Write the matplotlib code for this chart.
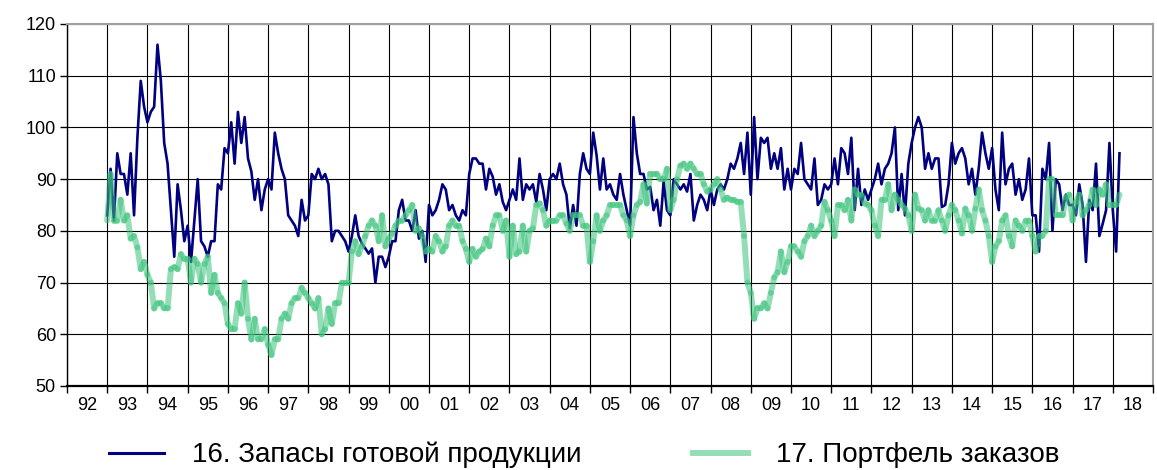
import matplotlib.pyplot as plt
import numpy as np
from matplotlib.collections import LineCollection
from matplotlib.lines import Line2D

plt.rcParams["font.family"] = ["Liberation Sans", "DejaVu Sans"]

# monthly series, Jan 1993 .. Mar 2018
start_year = 1993
year_labels = ["92", "93", "94", "95", "96", "97", "98", "99", "00", "01",
               "02", "03", "04", "05", "06", "07", "08", "09", "10", "11",
               "12", "13", "14", "15", "16", "17", "18"]
series_names = ["16. Запасы готовой продукции", "17. Портфель заказов"]

stocks = [
    83, 92, 82, 95, 91, 91, 87, 95, 83, 98, 109, 104,          # 1993
    101, 103, 104, 116, 109, 97, 93, 84, 75, 89, 84, 78,       # 1994
    81, 74, 82, 90, 78, 77, 75, 78, 78, 89, 88, 96,            # 1995
    95, 101, 93, 103, 97, 102, 94, 91.5, 86, 90, 84, 88,       # 1996
    90, 88, 99, 95, 92, 90, 83, 82, 81, 79, 86, 82,            # 1997
    83, 91, 90, 92, 90, 91, 89, 78, 80, 80, 79, 78,            # 1998
    76, 79, 83, 79, 77.5, 76.6, 75.6, 76.6, 70, 75, 75, 73,    # 1999
    75, 78, 78, 84, 86, 82, 82, 80, 84, 78.5, 80, 74,          # 2000
    85, 83, 84, 86, 89, 88, 84, 85, 83, 82, 84, 83,            # 2001
    91, 94, 94, 93, 93, 88, 92, 90.5, 87, 89, 85.6, 84,        # 2002
    86, 88, 86, 94, 86, 89, 88, 89, 85.6, 91, 88, 84,          # 2003
    90, 91, 90, 93, 89, 87, 80.5, 85, 81, 91, 95, 92,          # 2004
    91, 99, 94.6, 88, 94, 88, 89, 87, 86, 91, 87, 84,          # 2005
    81, 102, 95, 91, 91, 88, 88.5, 84, 86, 81, 89.5, 84,       # 2006
    83, 90, 89, 88, 89, 87.6, 91, 82, 85, 87, 86, 84,          # 2007
    88, 85, 88, 89, 88, 90, 93, 92, 94, 97, 91, 99,            # 2008
    87, 102, 90, 98, 97, 98, 92, 95, 92, 96, 88, 92,           # 2009
    88, 92, 91, 97, 90, 89, 88, 94, 85, 86, 89, 88,            # 2010
    89, 94, 89, 96, 95, 91, 98, 84, 92, 85, 88, 86,            # 2011
    88, 90, 93, 89, 92, 93, 95, 100, 84, 91, 83, 93,           # 2012
    97, 100, 102, 100, 92, 95, 92, 94, 94, 84.6, 85, 89,       # 2013
    97, 93, 95, 96, 94, 89, 92, 87, 92, 99, 95, 92,            # 2014
    96, 88, 84, 99, 89, 92, 93, 87, 90, 86, 88, 94,            # 2015
    83, 83, 76, 92, 90, 97, 80, 90, 89, 84, 87, 85,            # 2016
    85, 83, 89, 85, 74, 86, 84, 93, 79, 81.4, 84, 97,          # 2017
    84, 76, 95,                                                # 2018
]

orders = [
    82, 91, 82, 82, 86, 82, 83, 78.5, 79, 76.8, 72.6, 74,          # 1993
    71.5, 70, 65, 66, 66, 65, 65, 72.6, 73, 72.6, 75.5, 74.6,      # 1994
    74.6, 70, 74.6, 73.6, 70, 73.6, 75, 68, 71.5, 68, 67, 66,      # 1995
    62, 61, 61, 66, 64, 70, 63, 59, 63, 59, 59, 61,                # 1996
    58, 56, 59, 59, 63, 64, 63, 66, 67, 67, 69, 68,                # 1997
    67, 66, 65, 67, 60, 61, 65, 62, 66, 66, 70, 70,                # 1998
    70, 76, 78, 75.5, 77, 79, 81, 82, 81, 78, 83, 77,              # 1999
    78.5, 79.5, 81, 82, 82, 83, 84, 85, 80, 80.5, 79, 76,          # 2000
    76.5, 76, 79, 78, 76, 77, 81, 82, 81, 81, 78, 76.5,            # 2001
    74, 76.5, 75, 76, 76.5, 78.5, 77, 81, 83, 83, 80, 82,          # 2002
    75, 81, 75.5, 76, 81, 76, 80, 80.5, 85, 85.3, 84, 81,          # 2003
    82, 82, 82, 83, 83, 81.4, 80, 83, 83, 83, 81, 81,              # 2004
    74, 78, 83, 80, 82, 83, 85, 85, 85, 85, 83, 82,                # 2005
    79, 83, 85, 85.6, 89, 85.3, 91, 91, 91, 90, 90, 92,            # 2006
    84, 86, 90, 92.6, 93, 92, 93, 92, 91, 91, 89, 87.6,            # 2007
    88, 89, 90, 88, 86, 86.4, 86, 86, 85.6, 85.6, 79, 70,          # 2008
    68, 63, 65, 65, 66, 65, 68, 71, 72, 76, 72, 74,                # 2009
    77, 77, 76, 75, 78, 79, 81, 79, 80, 81, 85.6, 84,              # 2010
    82, 79, 85, 85, 84, 86, 82, 88, 87, 87, 85.3, 85,              # 2011
    84, 81, 79, 86, 86, 89, 84, 87, 86, 85, 84.3, 83,              # 2012
    80, 87, 84.3, 84, 82, 84, 82, 82, 84, 82, 80, 83,              # 2013
    85, 84, 82, 79.5, 84.3, 83, 80, 84.3, 88, 84, 82, 79,          # 2014
    74, 77, 78, 82, 83, 79, 77, 82, 81, 80, 82, 82,                # 2015
    79, 76, 79, 79, 80, 90, 90, 83, 83, 83, 86.5, 87,              # 2016
    82, 85.6, 87, 83, 84, 85, 88, 85, 88, 87, 89, 85,              # 2017
    85, 85, 87,                                                    # 2018
]

BLUE = "#000080"
GREEN = "#3cc47c"

x = start_year + np.arange(len(stocks)) / 12

fig = plt.figure(figsize=(11.57, 4.70), dpi=100)
ax = fig.add_axes([67 / 1157, 1 - 386 / 470, (1153 - 67) / 1157, (386 - 24) / 470])

ax.plot(x, stocks, color=BLUE, lw=1.9, zorder=3)

# green line drawn as separate translucent segments so the joints look darker
pts = np.column_stack([x, orders])
segs = np.stack([pts[:-1], pts[1:]], axis=1)
lc = LineCollection(segs, colors=GREEN, alpha=0.55, linewidths=4.3,
                    capstyle="round", zorder=4)
ax.add_collection(lc)

ax.set_xlim(1992, 2019)
ax.set_ylim(50, 120)

ax.set_xticks(range(1992, 2020))
ax.set_xticks(np.arange(1992.5, 2019, 1.0), minor=True)
ax.set_xticklabels(year_labels, minor=True)
ax.tick_params(axis="x", which="major", length=5, width=1, labelbottom=False)
ax.tick_params(axis="x", which="minor", length=0, pad=8, labelsize=13)
ax.set_yticks(range(50, 121, 10))
ax.tick_params(axis="y", length=5, width=1, pad=3, labelsize=13)

ax.grid(which="major", color="black", lw=0.8)
ax.set_axisbelow(True)

for side in ["top", "right"]:
    ax.spines[side].set_color("#a0a0a0")
    ax.spines[side].set_linewidth(1.5)
ax.spines["left"].set_linewidth(1.0)
ax.spines["bottom"].set_linewidth(1.6)

handles = [Line2D([], [], color=BLUE, lw=2.2),
           Line2D([], [], color=GREEN, alpha=0.55, lw=4.3)]
fig.legend(handles, series_names, loc="center", bbox_to_anchor=(584 / 1157, 1 - 455 / 470),
           ncol=2, frameon=False, fontsize=20, handlelength=2.0, handletextpad=1.0,
           columnspacing=4.0, borderpad=0, borderaxespad=0)

fig.savefig("out.png", dpi=100)
